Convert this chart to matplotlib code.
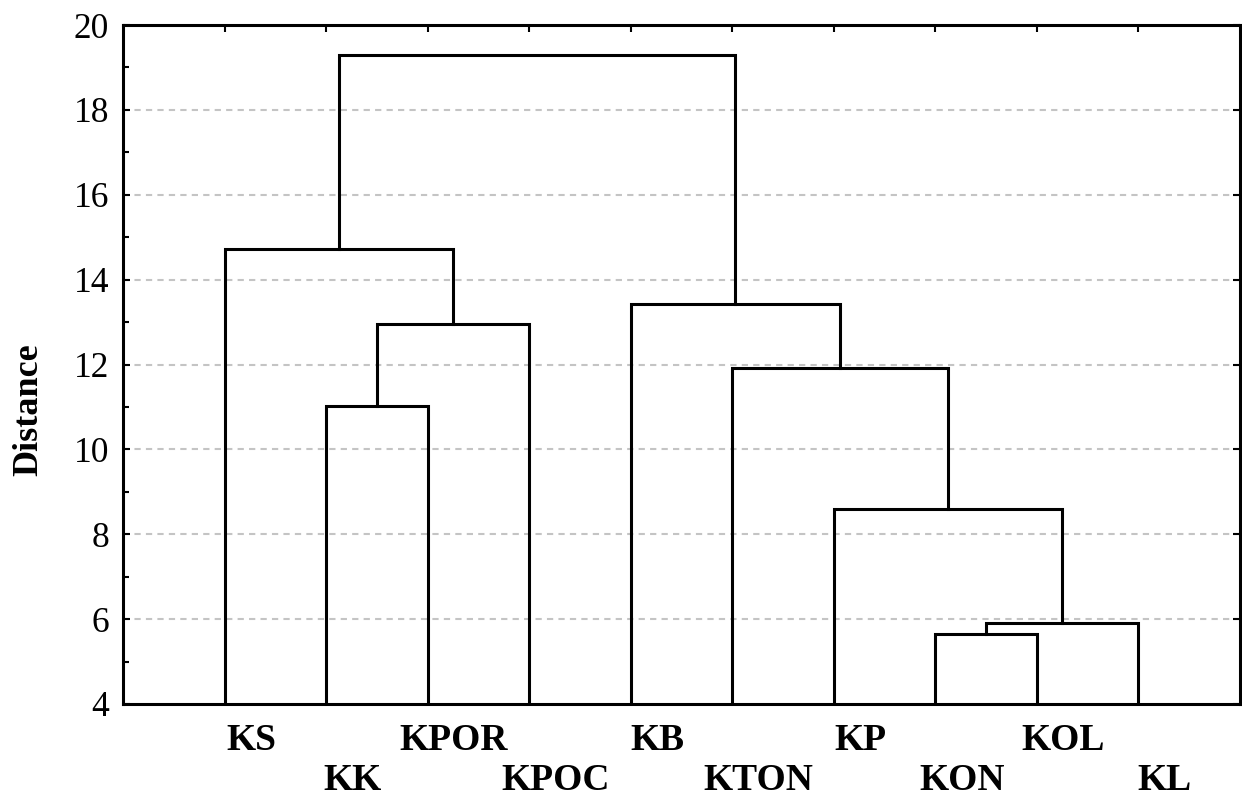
import numpy as np
import matplotlib
matplotlib.use('Agg')
import matplotlib.pyplot as plt
from matplotlib.ticker import MultipleLocator, FixedLocator
from matplotlib.transforms import blended_transform_factory

plt.rcParams['font.family'] = 'Liberation Serif'

# leaves, left to right
labels = ['KS', 'KK', 'KPOR', 'KPOC', 'KB', 'KTON', 'KP', 'KON', 'KOL', 'KL']
# merges: (left cluster, right cluster, distance); new cluster id = 10 + row
left_ids = [7, 10, 6, 1, 5, 13, 4, 0, 17]
right_ids = [8, 9, 11, 2, 12, 3, 14, 15, 16]
heights = [5.65, 5.92, 8.6, 11.03, 11.92, 12.95, 13.42, 14.72, 19.3]

n = len(labels)
xpos = {i: i + 1.0 for i in range(n)}
ypos = {i: 4.0 for i in range(n)}

fig = plt.figure(figsize=(12.42, 7.94), dpi=100)
ax = fig.add_axes([123 / 1242, 1 - 704 / 794, (1240 - 123) / 1242, (704 - 25) / 794])

for k, (a, b, h) in enumerate(zip(left_ids, right_ids, heights)):
    xa, xb = xpos[a], xpos[b]
    ax.plot([xa, xa, xb, xb], [ypos[a], h, h, ypos[b]], color='black', lw=2.2,
            solid_joinstyle='miter', zorder=3)
    xpos[n + k] = (xa + xb) / 2
    ypos[n + k] = h

ax.set_xlim(0, 11)
ax.set_ylim(4, 20)
ax.yaxis.set_major_locator(MultipleLocator(2))
ax.yaxis.set_minor_locator(MultipleLocator(1))
ax.xaxis.set_major_locator(FixedLocator([i + 1 for i in range(n)]))
ax.tick_params(axis='x', which='both', bottom=False, top=True, labelbottom=False,
               direction='in', length=5, width=1.5)
ax.tick_params(axis='y', which='major', left=True, right=True, direction='in',
               length=5, width=1.5, labelsize=25.5, pad=10)
ax.tick_params(axis='y', which='minor', left=True, right=False, direction='in',
               length=4, width=1.5)
for s in ax.spines.values():
    s.set_linewidth(2.2)

for y in range(6, 20, 2):
    ax.axhline(y, color='#c4c4c4', lw=1.5, ls=(0, (3, 2.5)), zorder=1)

trans = blended_transform_factory(ax.transData, ax.transAxes)
for i, lab in enumerate(labels):
    yy = -0.0677 if i % 2 == 0 else -0.1260
    ax.text(i + 1 + 0.26, yy, lab, transform=trans, ha='center', va='baseline',
            fontsize=27, fontweight='bold')

ax.set_ylabel('Distance', fontsize=26, fontweight='bold', va='baseline')
ax.yaxis.set_label_coords(-0.077, 0.433)

fig.savefig('out.png', dpi=100)
